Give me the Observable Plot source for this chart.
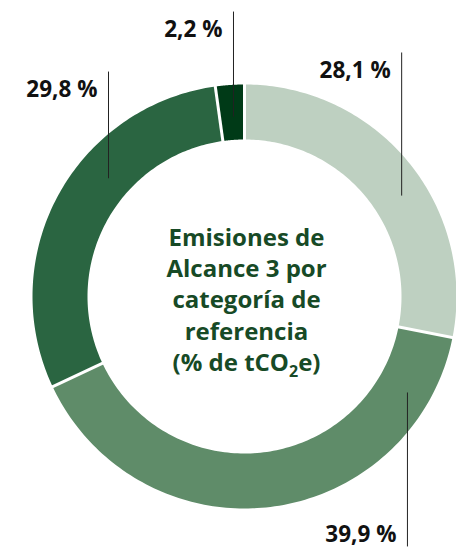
<!DOCTYPE html>
<html><head><meta charset="utf-8">
<script src="https://cdn.jsdelivr.net/npm/d3@7"></script>
<script src="https://cdn.jsdelivr.net/npm/@observablehq/plot@0.6"></script>
<style>html,body{margin:0;padding:0;background:#fff}#chart svg{display:block}</style>
</head><body><div id="chart"></div>
<script>
// ---- data ----
const categories = ["cat1", "cat2", "cat3", "cat4"];
const shares = [28.1, 39.9, 29.8, 2.2];
const labels = ["28,1 %", "39,9 %", "29,8 %", "2,2 %"];
const colors = ["#bed0c1", "#5f8c69", "#2a6541", "#003a17"];
const titleLines = ["Emisiones de", "Alcance 3 por", "categoría de", "referencia", "(% de tCO2e)"];

// ---- layout (pixels / unit radius) ----
const W = 456, H = 551, cx = 244, cy = 296, R = 212;
const inner = 157 / R;
const font = "'Open Sans', 'Noto Sans', sans-serif";
// leader lines: angle (deg from top, clockwise) and radius where line meets ring, far end y (units)
const leaderAngle = [57.3, 120.5, 311, 356.5];
const leaderR = [0.881, 0.892, 0.85, 0.85];
const leaderEnd = [1.151, -1.179, 1.061, 1.344];

const total = d3.sum(shares);
const rad = d => d * Math.PI / 180;
let acc = 0;
const slices = categories.map((c, i) => {
  const a0 = acc / total * 360; acc += shares[i];
  const a1 = acc / total * 360;
  return {cat: c, a0, a1, color: colors[i], label: labels[i]};
});

const pts = [];
for (const s of slices) {
  const n = 120;
  for (let k = 0; k <= n; k++) {
    const a = rad(s.a0 + (s.a1 - s.a0) * k / n);
    pts.push({cat: s.cat, color: s.color, x: Math.sin(a), y: Math.cos(a)});
  }
  for (let k = n; k >= 0; k--) {
    const a = rad(s.a0 + (s.a1 - s.a0) * k / n);
    pts.push({cat: s.cat, color: s.color, x: inner * Math.sin(a), y: inner * Math.cos(a)});
  }
}
const gaps = slices.map(s => ({
  x1: 0.7 * Math.sin(rad(s.a0)), y1: 0.7 * Math.cos(rad(s.a0)),
  x2: 1.03 * Math.sin(rad(s.a0)), y2: 1.03 * Math.cos(rad(s.a0))
}));
const leaders = slices.map((s, i) => {
  const a = rad(leaderAngle[i]);
  const x = leaderR[i] * Math.sin(a), y = leaderR[i] * Math.cos(a);
  const end = leaderEnd[i];
  const up = end > y;
  return {
    x, y1: y, y2: end, label: s.label,
    lx: x - 11 / R,
    ly: up ? end - 18 / R : end + 12 / R
  };
});

const chart = Plot.plot({
  width: W, height: H,
  margin: 0,
  x: {domain: [-cx / R, (W - cx) / R], range: [0, W], axis: null},
  y: {domain: [-(H - cy) / R, cy / R], range: [H, 0], axis: null},
  color: {type: "identity"},
  style: {fontFamily: font, background: "white"},
  marks: [
    Plot.line(pts, {x: "x", y: "y", z: "cat", fill: "color", stroke: null, curve: "linear"}),
    Plot.link(gaps, {x1: "x1", y1: "y1", x2: "x2", y2: "y2", stroke: "white", strokeWidth: 3}),
    Plot.link(leaders, {x1: "x", x2: "x", y1: "y1", y2: "y2", stroke: "#222", strokeWidth: 1}),
    Plot.text(leaders, {x: "lx", y: "ly", text: "label", textAnchor: "end", fontSize: 22.5, fontWeight: 700, fill: "#111"}),
    Plot.text([titleLines.join("\n")], {x: 0, y: 0, text: d => d, fontSize: 24, fontWeight: 700, fill: "#174a26", lineHeight: 1.3, dy: 2, dx: 2})
  ]
});
document.getElementById("chart").appendChild(chart);

// subscript the 2 in tCO2e
for (const t of chart.querySelectorAll("tspan")) {
  if (t.textContent === titleLines[4]) {
    const m = titleLines[4].match(/^(.*tCO)(2)(e.*)$/);
    if (m) {
      t.textContent = m[1];
      const sub = document.createElementNS("http://www.w3.org/2000/svg", "tspan");
      sub.setAttribute("dy", "6"); sub.setAttribute("font-size", "16"); sub.textContent = m[2];
      const rest = document.createElementNS("http://www.w3.org/2000/svg", "tspan");
      rest.setAttribute("dy", "-6"); rest.textContent = m[3];
      t.appendChild(sub); t.appendChild(rest);
    }
  }
}
</script>
</body></html>
